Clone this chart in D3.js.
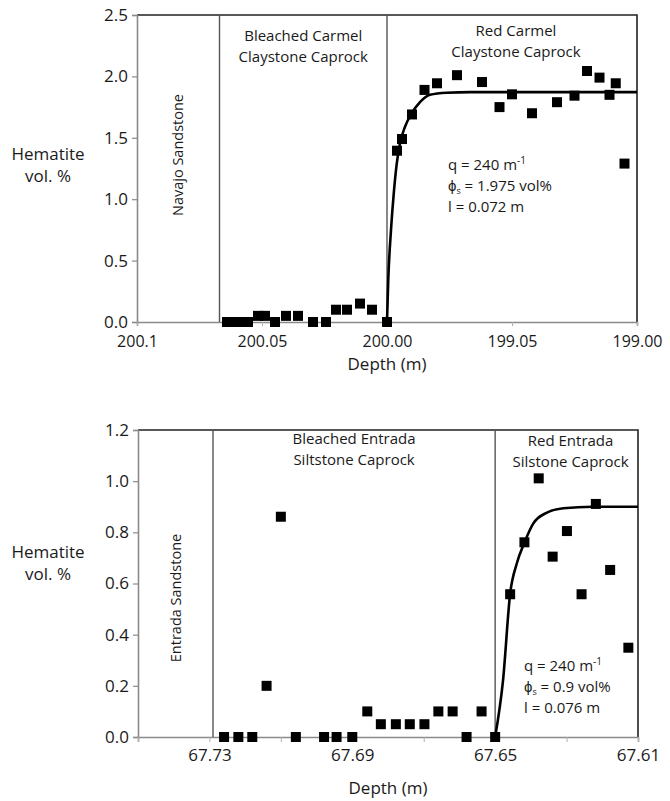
<!DOCTYPE html>
<html>
<head>
<meta charset="utf-8">
<script src="https://cdn.jsdelivr.net/npm/d3@7"></script>
<style>
  html, body { margin: 0; padding: 0; background: #fff; }
  svg text { font-family: "Open Sans", "Liberation Sans", sans-serif; fill: #1a1a1a; }
</style>
</head>
<body>
<svg id="chart" width="670" height="801"></svg>
<script>
// ---------- Top panel data (Carmel) ----------
const topDepth = [200.064, 200.0612, 200.0584, 200.0556, 200.0516, 200.0488, 200.0448, 200.0404, 200.0356,
  200.0296, 200.0244, 200.0204, 200.016, 200.0108, 200.006, 200.000,
  199.996, 199.994, 199.990, 199.985, 199.980, 199.972, 199.962, 199.955, 199.950, 199.942,
  199.932, 199.925, 199.920, 199.915, 199.911, 199.9085, 199.905];
const topHem = [0, 0, 0, 0, 0.05, 0.05, 0, 0.05, 0.05,
  0, 0, 0.1, 0.1, 0.15, 0.1, 0,
  1.395, 1.49, 1.69, 1.89, 1.944, 2.01, 1.954, 1.75, 1.854, 1.70,
  1.79, 1.843, 2.044, 1.99, 1.85, 1.944, 1.29];
const topFitDepth = [200.000, 199.9995, 199.9984, 199.9972, 199.9961, 199.9948, 199.9928, 199.9901, 199.9868, 199.9828, 199.9761, 199.9668, 199.90];
const topFitHem = [0, 0.34, 0.75, 1.07, 1.29, 1.455, 1.59, 1.70, 1.79, 1.85, 1.867, 1.872, 1.872];
const topXTicks = [200.10, 200.05, 200.00, 199.95, 199.90];
const topXTickLabels = ["200.1", "200.05", "200.00", "199.05", "199.00"];
const topYTicks = [0, 0.5, 1.0, 1.5, 2.0, 2.5];
const topBoundaries = [200.067, 200.000];
const topRegions = [
  { lines: ["Navajo Sandstone"], rotated: true },
  { lines: ["Bleached Carmel", "Claystone Caprock"] },
  { lines: ["Red Carmel", "Claystone Caprock"] }
];
const topParams = ["240", "1.975", "0.072"];

// ---------- Bottom panel data (Entrada) ----------
const botDepth = [67.7259, 67.7219, 67.718, 67.714, 67.710, 67.7058, 67.6979, 67.6944, 67.690,
  67.6858, 67.682, 67.6778, 67.6739, 67.6698, 67.6659, 67.6619, 67.658, 67.6538, 67.650,
  67.6458, 67.6418, 67.6378, 67.6339, 67.6299, 67.6258, 67.6218, 67.6178, 67.6127];
const botHem = [0, 0, 0, 0.2, 0.861, 0, 0, 0, 0,
  0.1, 0.05, 0.05, 0.05, 0.05, 0.1, 0.1, 0, 0.1, 0,
  0.558, 0.761, 1.011, 0.705, 0.805, 0.558, 0.911, 0.653, 0.349];
const botFitDepth = [67.650, 67.6478, 67.6458, 67.6439, 67.6418, 67.6393, 67.6355, 67.6309, 67.6226, 67.61];
const botFitHem = [0, 0.22, 0.56, 0.68, 0.76, 0.835, 0.877, 0.894, 0.90, 0.90];
const botXTicks = [67.75, 67.73, 67.71, 67.69, 67.67, 67.65, 67.63, 67.61];
const botXTickLabels = ["", "67.73", "", "67.69", "", "67.65", "", "67.61"];
const botYTicks = [0, 0.2, 0.4, 0.6, 0.8, 1.0, 1.2];
const botBoundaries = [67.729, 67.650];
const botRegions = [
  { lines: ["Entrada Sandstone"], rotated: true },
  { lines: ["Bleached Entrada", "Siltstone Caprock"] },
  { lines: ["Red Entrada", "Silstone Caprock"] }
];
const botParams = ["240", "0.9", "0.076"];

const svg = d3.select("#chart");

function panel(cfg) {
  const g = svg.append("g");
  const x = d3.scaleLinear().domain(cfg.xDomain).range([cfg.left, cfg.right]);
  const y = d3.scaleLinear().domain(cfg.yDomain).range([cfg.bottom, cfg.top]);

  // frame top & right (dark)
  g.append("path")
    .attr("d", `M${cfg.left},${cfg.top}H${cfg.right}V${cfg.bottom}`)
    .attr("fill", "none").attr("stroke", "#222").attr("stroke-width", 1.6);

  // y axis
  const yAxis = d3.axisLeft(y).tickValues(cfg.yTicks).tickFormat(d3.format(".1f")).tickSize(5).tickPadding(4);
  const ya = g.append("g").attr("transform", `translate(${cfg.left},0)`).call(yAxis);
  ya.select(".domain").attr("stroke", "#8a8a8a").attr("stroke-width", 1.6);
  ya.selectAll(".tick line").attr("stroke", "#8a8a8a").attr("stroke-width", 1.2);
  ya.selectAll(".tick text").style("font-size", "17px").attr("fill", "#1a1a1a");

  // x axis
  const xAxis = d3.axisBottom(x).tickValues(cfg.xTicks)
    .tickFormat((d, i) => cfg.xTickLabels[i]).tickSize(cfg.xTickSize).tickPadding(cfg.xTickPad);
  const xa = g.append("g").attr("transform", `translate(0,${cfg.bottom})`).call(xAxis);
  xa.select(".domain").attr("stroke", "#8a8a8a").attr("stroke-width", 1.6);
  xa.selectAll(".tick line").attr("stroke", "#b0b0b0").attr("stroke-width", 1);
  xa.selectAll(".tick text").style("font-size", cfg.xTickFont).attr("fill", "#1a1a1a");

  // boundaries
  g.selectAll("line.bd").data(cfg.boundaries).enter().append("line")
    .attr("x1", d => x(d)).attr("x2", d => x(d))
    .attr("y1", cfg.top).attr("y2", cfg.bottom)
    .attr("stroke", "#555").attr("stroke-width", 1.4);

  // region labels
  const edges = [cfg.xDomain[0], ...cfg.boundaries, cfg.xDomain[1]];
  cfg.regions.forEach((r, i) => {
    const cx = (x(edges[i]) + x(edges[i + 1])) / 2;
    if (r.rotated) {
      g.append("text")
        .attr("transform", `translate(${cx + 5},${cfg.rotY}) rotate(-90)`)
        .attr("text-anchor", "middle").style("font-size", "14.5px").text(r.lines[0]);
    } else {
      const t = g.append("text").attr("text-anchor", "middle").style("font-size", "15px");
      r.lines.forEach((ln, k) => {
        t.append("tspan").attr("x", cx + (cfg.regionDx[i] || 0)).attr("y", cfg.regionY[i] + k * 21).text(ln);
      });
    }
  });

  // fit curve
  const line = d3.line().x(d => x(d[0])).y(d => y(d[1])).curve(d3.curveMonotoneX);
  g.append("path").datum(d3.zip(cfg.fitDepth, cfg.fitHem))
    .attr("d", line).attr("fill", "none").attr("stroke", "#000").attr("stroke-width", 2.6);

  // points
  g.selectAll("rect.pt").data(d3.zip(cfg.depth, cfg.hem)).enter().append("rect")
    .attr("x", d => x(d[0]) - 5).attr("y", d => y(d[1]) - 5)
    .attr("width", 10).attr("height", 10).attr("fill", "#000");

  // annotation
  const ax = cfg.annX, ay = cfg.annY;
  const t1 = g.append("text").attr("x", ax).attr("y", ay).style("font-size", "15px");
  t1.append("tspan").text(`q = ${cfg.params[0]} m`);
  t1.append("tspan").attr("dy", -6).style("font-size", "10px").text("-1");
  const t2 = g.append("text").attr("x", ax).attr("y", ay + 21).style("font-size", "15px");
  t2.append("tspan").text("\u03d5");
  t2.append("tspan").attr("dy", 3).style("font-size", "9px").text("s");
  t2.append("tspan").attr("dy", -3).text(` = ${cfg.params[1]} vol%`);
  g.append("text").attr("x", ax).attr("y", ay + 42).style("font-size", "15px").text(`l = ${cfg.params[2]} m`);

  // axis titles
  g.append("text").attr("x", (cfg.left + cfg.right) / 2).attr("y", cfg.xTitleY)
    .attr("text-anchor", "middle").style("font-size", "17px").text("Depth (m)");
  const yt = g.append("text").attr("text-anchor", "middle").style("font-size", "17px");
  yt.append("tspan").attr("x", 48).attr("y", cfg.yTitleY).text("Hematite");
  yt.append("tspan").attr("x", 48).attr("y", cfg.yTitleY + 22).text("vol. %");
}

panel({
  left: 137, right: 637, top: 15, bottom: 322,
  xDomain: [200.10, 199.90], yDomain: [0, 2.5],
  xTicks: topXTicks, xTickLabels: topXTickLabels, yTicks: topYTicks,
  xTickSize: 4, xTickPad: 10, xTickFont: "16px",
  boundaries: topBoundaries, regions: topRegions, rotY: 155,
  regionY: [0, 41, 36], regionDx: [0, 0, 4],
  fitDepth: topFitDepth, fitHem: topFitHem, depth: topDepth, hem: topHem,
  params: topParams, annX: 448, annY: 170,
  xTitleY: 370, yTitleY: 160
});

panel({
  left: 138, right: 638, top: 430, bottom: 737,
  xDomain: [67.75, 67.61], yDomain: [0, 1.2],
  xTicks: botXTicks, xTickLabels: botXTickLabels, yTicks: botYTicks,
  xTickSize: 5, xTickPad: 7, xTickFont: "17px",
  boundaries: botBoundaries, regions: botRegions, rotY: 598,
  regionY: [0, 444, 446], regionDx: [0, 0, 4],
  fitDepth: botFitDepth, fitHem: botFitHem, depth: botDepth, hem: botHem,
  params: botParams, annX: 524, annY: 671,
  xTitleY: 794, yTitleY: 558
});
</script>
</body>
</html>
